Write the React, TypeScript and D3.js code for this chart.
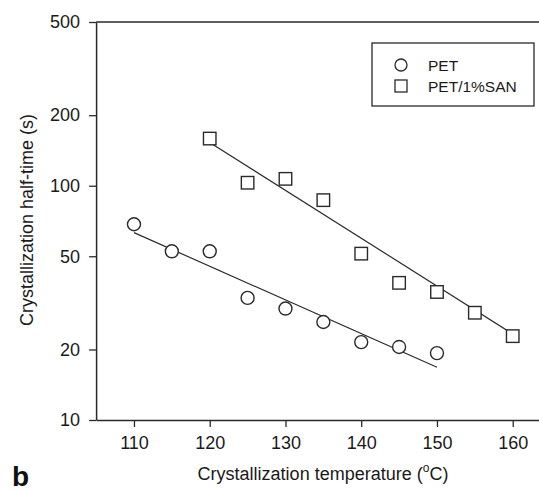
import React from "react";
import { useEffect, useRef } from "react";
import * as d3 from "d3";

// temperatures (°C) and half-times (s)
const tempPET = [110, 115, 120, 125, 130, 135, 140, 145, 150];
const halfPET = [68.5, 52.5, 52.5, 33.2, 29.9, 26.2, 21.5, 20.5, 19.3];

const tempSAN = [120, 125, 130, 135, 140, 145, 150, 155, 160];
const halfSAN = [159, 103, 107, 86.8, 51.3, 38.5, 35.2, 28.7, 22.8];

// fitted lines (end points)
const fitPETx = [110, 150];
const fitPETy = [63.1, 16.8];
const fitSANx = [120, 160];
const fitSANy = [153, 23.3];

const xTicks = [110, 120, 130, 140, 150, 160];
const yTicks = [10, 20, 50, 100, 200, 500];
const legendLabels = ["PET", "PET/1%SAN"];

const App = () => {
  const svgRef = useRef<SVGSVGElement>(null);

  useEffect(() => {
    const width = 539;
    const height = 492;
    const font = "'Liberation Sans', Arial, sans-serif";
    const ink = "#2a2a2a";

    const svg = d3.select(svgRef.current)
      .attr("width", width)
      .attr("height", height);
    svg.selectAll("*").remove();

    const x = d3.scaleLinear().domain([105, 165]).range([96.1, 550.6]);
    const y = d3.scaleLog().domain([10, 500]).range([420, 22]);

    // frame: top border
    svg.append("line")
      .attr("x1", x(105)).attr("x2", x(165))
      .attr("y1", y(500)).attr("y2", y(500))
      .attr("stroke", ink).attr("stroke-width", 1.5);

    const xAxis = svg.append("g")
      .attr("transform", `translate(0,${y(10)})`)
      .call(d3.axisBottom(x).tickValues(xTicks).tickSize(7).tickPadding(9).tickSizeOuter(0));
    const yAxis = svg.append("g")
      .attr("transform", `translate(${x(105)},0)`)
      .call(d3.axisLeft(y).tickValues(yTicks).tickFormat(d3.format("d")).tickSize(7).tickPadding(9).tickSizeOuter(0));

    [xAxis, yAxis].forEach(a => {
      a.select(".domain").attr("stroke", ink).attr("stroke-width", 1.5);
      a.selectAll(".tick line").attr("stroke", ink).attr("stroke-width", 1.3);
      a.selectAll(".tick text")
        .attr("fill", "#1a1a1a")
        .attr("font-family", font)
        .attr("font-size", 18);
    });

    // fit lines
    const fitLine = d3.line<[number, number]>()
      .x(d => x(d[0]))
      .y(d => y(d[1]));
    svg.append("path")
      .attr("d", fitLine(d3.zip(fitPETx, fitPETy) as [number, number][]))
      .attr("fill", "none").attr("stroke", ink).attr("stroke-width", 1.2);
    svg.append("path")
      .attr("d", fitLine(d3.zip(fitSANx, fitSANy) as [number, number][]))
      .attr("fill", "none").attr("stroke", ink).attr("stroke-width", 1.2);

    // markers
    const pet = d3.zip(tempPET, halfPET);
    svg.selectAll(".pt-pet")
      .data(pet)
      .join("circle")
      .attr("class", "pt-pet")
      .attr("cx", d => x(d[0]))
      .attr("cy", d => y(d[1]))
      .attr("r", 6.5)
      .attr("fill", "white")
      .attr("stroke", ink)
      .attr("stroke-width", 1.4);

    const san = d3.zip(tempSAN, halfSAN);
    const sq = 12.5;
    svg.selectAll(".pt-san")
      .data(san)
      .join("rect")
      .attr("class", "pt-san")
      .attr("x", d => x(d[0]) - sq / 2)
      .attr("y", d => y(d[1]) - sq / 2)
      .attr("width", sq)
      .attr("height", sq)
      .attr("fill", "white")
      .attr("stroke", ink)
      .attr("stroke-width", 1.4);

    // legend
    const lg = svg.append("g").attr("transform", "translate(372,43)");
    lg.append("rect")
      .attr("width", 162).attr("height", 63)
      .attr("fill", "white").attr("stroke", ink).attr("stroke-width", 1.3);
    legendLabels.forEach((label, i) => {
      const cy = 22 + i * 21;
      if (i === 0) {
        lg.append("circle").attr("cx", 29).attr("cy", cy).attr("r", 6)
          .attr("fill", "white").attr("stroke", ink).attr("stroke-width", 1.3);
      } else {
        lg.append("rect").attr("x", 23).attr("y", cy - 6).attr("width", 12).attr("height", 12)
          .attr("fill", "white").attr("stroke", ink).attr("stroke-width", 1.3);
      }
      lg.append("text")
        .attr("x", 56).attr("y", cy + 5.5)
        .attr("font-family", font).attr("font-size", 15.5)
        .attr("fill", "#1a1a1a")
        .text(label);
    });

    // axis titles
    svg.append("text")
      .attr("transform", "translate(33,220) rotate(-90)")
      .attr("text-anchor", "middle")
      .attr("font-family", font).attr("font-size", 18)
      .attr("fill", "#1a1a1a")
      .text("Crystallization half-time (s)");

    const xt = svg.append("text")
      .attr("x", 323).attr("y", 480)
      .attr("text-anchor", "middle")
      .attr("font-family", font).attr("font-size", 18)
      .attr("fill", "#1a1a1a");
    xt.append("tspan").text("Crystallization temperature (");
    xt.append("tspan").attr("font-size", 12).attr("dy", -8).text("o");
    xt.append("tspan").attr("dy", 8).text("C)");

    svg.append("text")
      .attr("x", 12).attr("y", 486)
      .attr("font-family", font).attr("font-size", 28).attr("font-weight", "bold")
      .attr("fill", "#111")
      .text("b");
  }, []);

  return <svg ref={svgRef} style={{ position: "absolute", left: 0, top: 0 }} />;
};

export default App;
